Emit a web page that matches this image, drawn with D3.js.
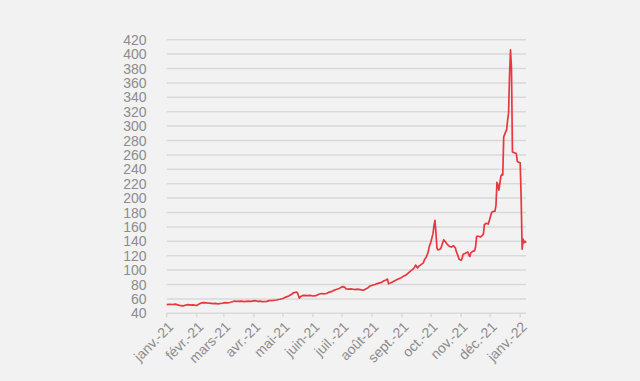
<!DOCTYPE html>
<html>
<head>
<meta charset="utf-8">
<script src="https://cdn.jsdelivr.net/npm/d3@7"></script>
<style>
  body { margin: 0; background: #f2f2f2; }
  svg { display: block; }
  .grid line { stroke: #d9d9d9; stroke-width: 1.5; }
  .tick-label { fill: #8c8c8c; font-family: "Liberation Sans", Arial, sans-serif; }
</style>
</head>
<body>
<div id="chart"></div>
<script>
//////////////////////////////// Data ////////////////////////////////
var dates = [
  "2021-01-01","2021-01-04","2021-01-07","2021-01-10","2021-01-14","2021-01-18","2021-01-21","2021-01-23","2021-01-26","2021-01-28",
  "2021-02-01","2021-02-03","2021-02-06","2021-02-08","2021-02-11","2021-02-14","2021-02-18","2021-02-20","2021-02-23","2021-02-27",
  "2021-03-02","2021-03-05","2021-03-07","2021-03-10","2021-03-12","2021-03-15","2021-03-19","2021-03-22","2021-03-26","2021-03-29",
  "2021-04-02","2021-04-05","2021-04-07","2021-04-10","2021-04-14","2021-04-17","2021-04-21","2021-04-24","2021-04-28",
  "2021-05-01","2021-05-04","2021-05-07","2021-05-10","2021-05-12","2021-05-15","2021-05-16","2021-05-18","2021-05-19","2021-05-21","2021-05-23","2021-05-26","2021-05-29",
  "2021-06-01","2021-06-04","2021-06-07","2021-06-10","2021-06-12","2021-06-15","2021-06-17","2021-06-20","2021-06-22","2021-06-25","2021-06-28","2021-06-30",
  "2021-07-02","2021-07-04","2021-07-05","2021-07-08","2021-07-11","2021-07-14","2021-07-17","2021-07-21","2021-07-23","2021-07-25","2021-07-28","2021-07-30",
  "2021-08-04","2021-08-07","2021-08-11","2021-08-13","2021-08-15","2021-08-17","2021-08-18","2021-08-20","2021-08-22","2021-08-24","2021-08-27","2021-08-31",
  "2021-09-03","2021-09-05","2021-09-07","2021-09-10","2021-09-12","2021-09-14","2021-09-15","2021-09-17","2021-09-18","2021-09-20","2021-09-23","2021-09-24","2021-09-26","2021-09-28","2021-09-29",
  "2021-10-01","2021-10-03","2021-10-04","2021-10-05","2021-10-06","2021-10-07","2021-10-08","2021-10-10","2021-10-11","2021-10-13","2021-10-14","2021-10-16","2021-10-17","2021-10-19","2021-10-20","2021-10-22","2021-10-24","2021-10-26","2021-10-27","2021-10-29","2021-10-30",
  "2021-11-01","2021-11-02","2021-11-03","2021-11-05","2021-11-06","2021-11-08","2021-11-09","2021-11-10","2021-11-11","2021-11-13","2021-11-15","2021-11-16","2021-11-17","2021-11-19","2021-11-21","2021-11-22","2021-11-24","2021-11-25","2021-11-27","2021-11-29","2021-11-30",
  "2021-12-02","2021-12-03","2021-12-06","2021-12-07","2021-12-08","2021-12-09","2021-12-10","2021-12-11","2021-12-12","2021-12-13","2021-12-14","2021-12-15","2021-12-17","2021-12-18","2021-12-19","2021-12-20","2021-12-21","2021-12-22","2021-12-23","2021-12-24","2021-12-26","2021-12-28","2021-12-29","2021-12-30",
  "2022-01-01","2022-01-02","2022-01-03","2022-01-04","2022-01-05","2022-01-06","2022-01-07"
];
var values = [
  52,52.5,52.2,52.8,51,50.3,51.5,52,51.3,51.8,
  50.8,52.5,54.5,54.8,54.5,54,53.5,53.8,53.2,54,
  54.8,54.5,55,56,57,56.5,56.8,56.2,57,56.5,
  57.5,56.5,57,56.3,56.5,57.5,58,58.5,59.5,
  60.5,62.5,64,66.5,68.5,69.5,68.5,61,63,64.5,64.8,64.5,65,
  64,64.5,66.5,67.5,67,67.5,69,70,71.5,73,74.5,76,
  77,76,74,73.5,73.8,73,73.5,72.5,72,73.5,75.5,78,
  80,81.5,83,85,86,87.5,81,82,83.5,85,87,89.5,
  92,93,95.5,99,101,104,107,103,105,107,110,114,118,125,132,
  140,151,162,169,152,131,128,129,130,138,142,139,137,134,133,132,134,131,126,119,115,
  113.5,116,122,123,124,125,121,119,124,126,127,133,147,147,146,147,150,163,165,164,168,
  178,181,182,190,222,218,211,220,230,233,232,285,292,295,308,318,370,406,380,264,263,262,251,250,
  249,200,129,143,138,140,138
];

var yTicks = d3.range(40, 421, 20);
var monthTicks = ["2021-01-01","2021-02-01","2021-03-01","2021-04-01","2021-05-01","2021-06-01","2021-07-01",
  "2021-08-01","2021-09-01","2021-10-01","2021-11-01","2021-12-01","2022-01-01"];
var monthLabels = ["janv.-21","févr.-21","mars-21","avr.-21","mai-21","juin-21","juil.-21",
  "août-21","sept.-21","oct.-21","nov.-21","déc.-21","janv.-22"];

//////////////////////////////// SVG ////////////////////////////////
var width = 640, height = 381;
var parseDate = d3.timeParse("%Y-%m-%d");

var data = dates.map(function(d, i) { return { date: parseDate(d), value: values[i] }; });

var svg = d3.select("#chart").append("svg")
  .attr("width", width)
  .attr("height", height);

svg.append("rect").attr("width", width).attr("height", height).attr("fill", "#f2f2f2");

var x = d3.scaleTime()
  .domain([parseDate("2021-01-01"), parseDate("2022-01-07")])
  .range([166.7, 526]);

var y = d3.scaleLinear()
  .domain([40, 420])
  .range([313.3, 39.7]);

//gridlines
svg.append("g").attr("class", "grid")
  .selectAll("line")
  .data(yTicks)
  .enter().append("line")
  .attr("x1", x.range()[0])
  .attr("x2", x.range()[1])
  .attr("y1", function(d) { return y(d); })
  .attr("y2", function(d) { return y(d); });

//y labels
svg.append("g")
  .selectAll("text")
  .data(yTicks)
  .enter().append("text")
  .attr("class", "tick-label")
  .attr("x", 146.5)
  .attr("y", function(d) { return y(d); })
  .attr("dy", "0.36em")
  .attr("text-anchor", "end")
  .style("font-size", "14px")
  .text(function(d) { return d; });

//x ticks
var xTickDates = monthTicks.map(parseDate);
svg.append("g").attr("class", "grid")
  .selectAll("line")
  .data(xTickDates)
  .enter().append("line")
  .attr("x1", function(d) { return x(d); })
  .attr("x2", function(d) { return x(d); })
  .attr("y1", y(40))
  .attr("y2", y(40) + 4);

//x labels
svg.append("g")
  .selectAll("text")
  .data(xTickDates)
  .enter().append("text")
  .attr("class", "tick-label")
  .attr("text-anchor", "end")
  .attr("transform", function(d) { return "translate(" + (x(d) + 4) + "," + (y(40) + 11) + ") rotate(-45)"; })
  .attr("dy", "0.35em")
  .style("font-size", "14px")
  .text(function(d, i) { return monthLabels[i]; });

//line
var line = d3.line()
  .x(function(d) { return x(d.date); })
  .y(function(d) { return y(d.value); });

svg.append("path")
  .datum(data)
  .attr("fill", "none")
  .attr("stroke", "#e8373f")
  .attr("stroke-width", 1.7)
  .attr("stroke-linejoin", "round")
  .attr("d", line);
</script>
</body>
</html>
